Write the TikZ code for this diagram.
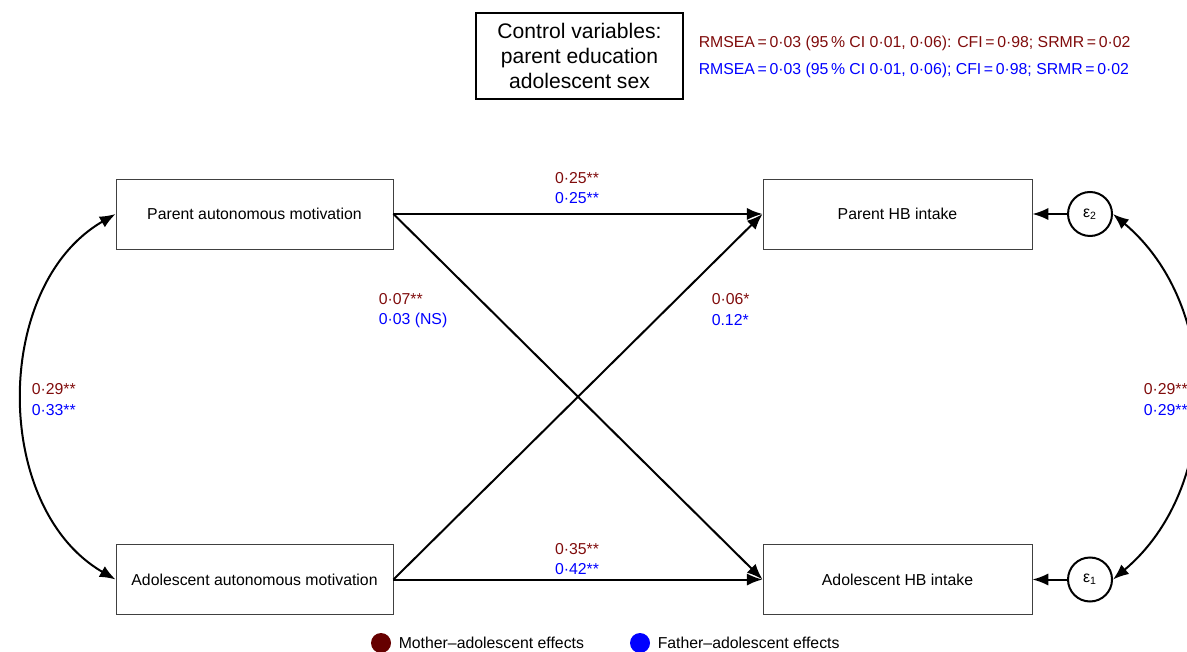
\documentclass[tikz,border=0pt]{standalone}
\usepackage{fontspec}
\setmainfont{Liberation Sans}
\usepackage{xcolor}
\usetikzlibrary{arrows.meta}
\definecolor{mred}{RGB}{128,12,12}
\definecolor{mdot}{RGB}{102,0,0}
\definecolor{fblue}{RGB}{0,0,255}
\tikzset{
  var/.style={draw=black!75,line width=0.5pt,minimum width=5.54cm,minimum height=1.4cm,font=\fontsize{9}{11}\selectfont},
  err/.style={draw,circle,line width=0.4mm,minimum size=0.88cm,inner sep=0pt,font=\fontsize{9}{11}\selectfont},
  coef/.style={font=\fontsize{9}{11}\selectfont,inner sep=1pt},
  legdot/.style={circle,minimum size=0.4cm,inner sep=0pt},
}
\newcommand{\two}{**}
\newcommand{\one}{*}

\begin{document}
\begin{tikzpicture}[line width=0.4mm,>={Latex[length=9pt,width=7pt]}]
\useasboundingbox (0,0) rectangle (23.74,13.02);
\node[draw,line width=0.5mm,align=center,minimum width=4.14cm,minimum height=1.72cm,font=\fontsize{12}{14.2}\selectfont] at (11.59,11.90) (ctrl){Control variables:\\parent education\\adolescent sex};
\node[coef,anchor=west,mred] at (13.92,12.16) (fitm){RMSEA\,=\,0·03 (95\,\% CI 0·01, 0·06): CFI\,=\,0·98; SRMR\,=\,0·02};
\node[coef,anchor=west,fblue] at (13.92,11.62) (fitf){RMSEA\,=\,0·03 (95\,\% CI 0·01, 0·06); CFI\,=\,0·98; SRMR\,=\,0·02};

  \node[var] at (5.09,8.74) (pam){Parent autonomous motivation};
  \node[var] at ([yshift=-7.31cm]pam) (aam){Adolescent autonomous motivation};
  \node[var,minimum width=5.38cm] at ([xshift=12.86cm]pam) (phb){Parent HB intake};
  \node[var,minimum width=5.38cm] at ([xshift=12.86cm]aam) (ahb){Adolescent HB intake};
  \node[err] at ([xshift=3.85cm]phb) (e2){ε\textsubscript{2}};
  \node[err] at ([xshift=3.85cm]ahb) (e1){ε\textsubscript{1}};

  \draw [->] (pam.east) -- (phb.west);
  \draw [->] (pam.east) -- (ahb.west);
  \draw [->] (aam.east) -- (phb.west);
  \draw [->] (aam.east) -- (ahb.west);
  \draw [->] (e2.west) -- (phb.east);
  \draw [->] (e1.west) -- (ahb.east);
  \draw [<->] (pam.west) to[out=210,in=150] (aam.west);
  \draw [<->] (e2.east) to[out=-40,in=40] (e1.east);

  % path coefficients
  \node[coef,mred] at (11.54,9.46) (c1m){0·25\two};
  \node[coef,fblue] at (11.54,9.06) (c1f){0·25\two};
  \node[coef,mred,anchor=west] at (7.52,7.04) (c2m){0·07\two};
  \node[coef,fblue,anchor=west] at (7.52,6.62) (c2f){0·03 (NS)};
  \node[coef,mred,anchor=west] at (14.18,7.04) (c3m){0·06\one};
  \node[coef,fblue,anchor=west] at (14.18,6.62) (c3f){0.12\one};
  \node[coef,mred] at (11.54,2.04) (c4m){0·35\two};
  \node[coef,fblue] at (11.54,1.64) (c4f){0·42\two};
  \node[coef,mred,anchor=west] at (0.58,5.24) (c5m){0·29\two};
  \node[coef,fblue,anchor=west] at (0.58,4.82) (c5f){0·33\two};
  \node[coef,mred,anchor=west] at (22.82,5.24) (c6m){0·29\two};
  \node[coef,fblue,anchor=west] at (22.82,4.82) (c6f){0·29\two};

  % legend
  \node[legdot,fill=mdot] at (7.62,0.16) (ldm){};
  \node[coef,anchor=west] at (7.92,0.16) (ltm){Mother–adolescent effects};
  \node[legdot,fill=fblue] at (12.80,0.16) (ldf){};
  \node[coef,anchor=west] at (13.10,0.16) (ltf){Father–adolescent effects};
\end{tikzpicture}
\end{document}
